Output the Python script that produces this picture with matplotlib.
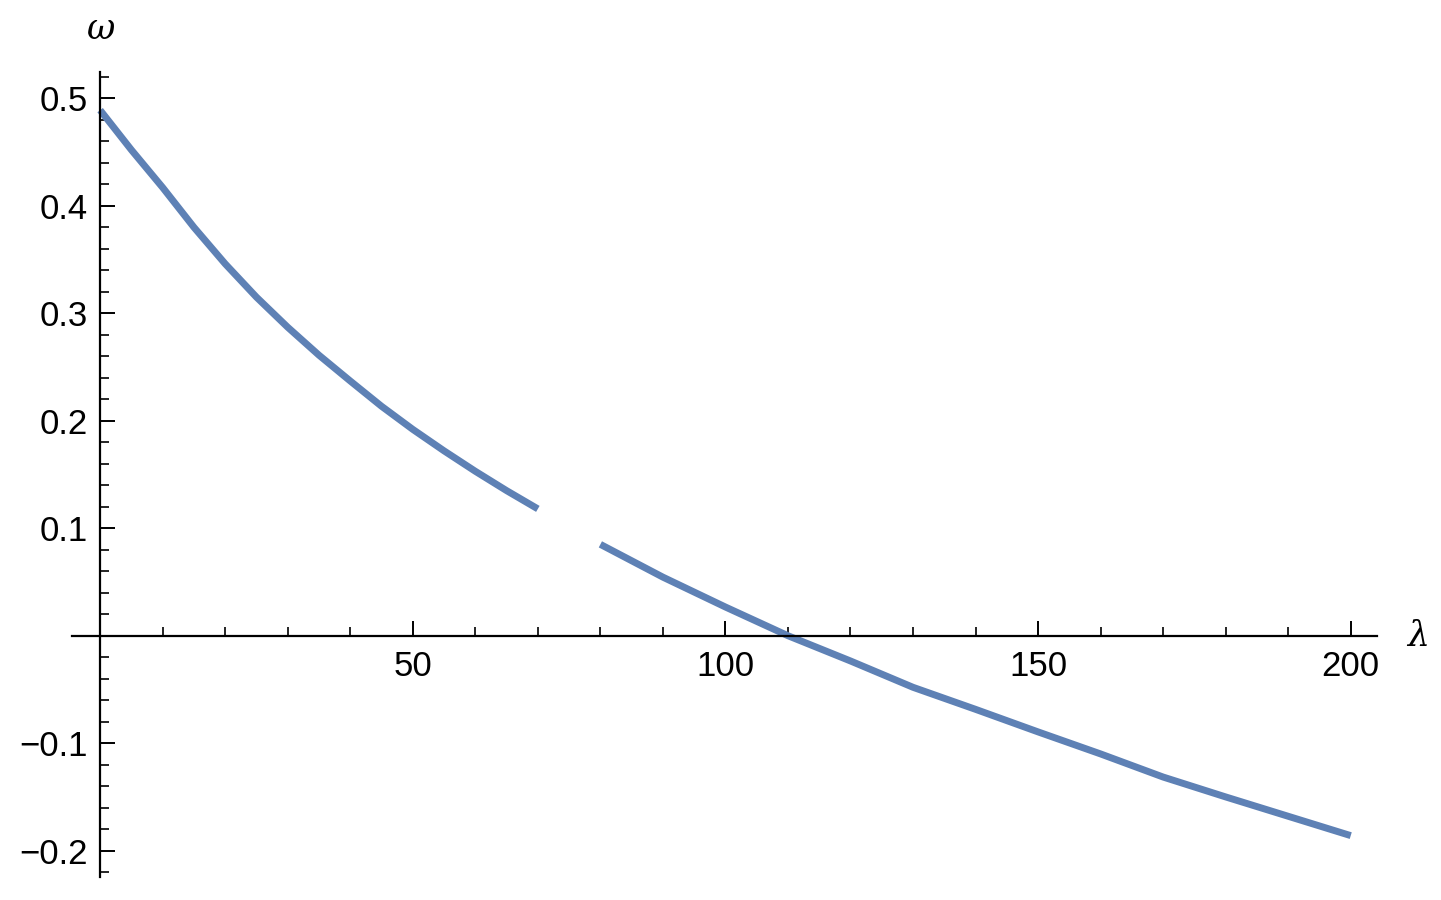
import matplotlib
matplotlib.use("Agg")
import matplotlib.pyplot as plt
from matplotlib.ticker import MultipleLocator, FixedLocator

# Data
lam_a = [0, 5, 10, 15, 20, 25, 30, 35, 40, 45, 50, 55, 60, 65, 70]
omega_a = [0.489, 0.452, 0.417, 0.380, 0.346, 0.315, 0.287, 0.261, 0.237, 0.2135,
           0.192, 0.172, 0.153, 0.135, 0.118]
lam_b = [80, 90, 100, 110, 120, 130, 140, 150, 160, 170, 180, 190, 200]
omega_b = [0.085, 0.0545, 0.0267, 0.0, -0.0235, -0.048, -0.0685, -0.0895,
           -0.110, -0.1315, -0.150, -0.168, -0.186]

x_major = [50, 100, 150, 200]
y_major = [-0.2, -0.1, 0.1, 0.2, 0.3, 0.4, 0.5]

W, H = 1441, 900
fig = plt.figure(figsize=(W / 100, H / 100), dpi=100)
left, right, top, bottom = 72, 1377, 72, 877
ax = fig.add_axes([left / W, 1 - bottom / H, (right - left) / W, (bottom - top) / H])

color = "#5E81B5"
ax.plot(lam_a, omega_a, color=color, lw=5.0, solid_capstyle="butt")
ax.plot(lam_b, omega_b, color=color, lw=5.0, solid_capstyle="butt")

ax.set_xlim(-4.5, 204.2)
ax.set_ylim(-0.2245, 0.5245)

for s in ["top", "right"]:
    ax.spines[s].set_visible(False)
ax.spines["left"].set_position(("data", 0))
ax.spines["bottom"].set_position(("data", 0))
for s in ["left", "bottom"]:
    ax.spines[s].set_linewidth(1.6)

ax.xaxis.set_major_locator(FixedLocator(x_major))
ax.xaxis.set_minor_locator(MultipleLocator(10))
ax.yaxis.set_major_locator(FixedLocator(y_major))
ax.yaxis.set_minor_locator(MultipleLocator(0.02))

font = "Liberation Sans"
fs = 25
ax.tick_params(axis="both", which="major", direction="in", length=11, width=1.4)
ax.tick_params(axis="both", which="minor", direction="in", length=6.5, width=1.2)
ax.tick_params(axis="x", which="major", pad=10)
ax.tick_params(axis="y", which="major", pad=9)
ax.set_xticklabels([str(v) for v in x_major], fontfamily=font, fontsize=fs)
ax.set_yticklabels([f"{v:.1f}".replace("-", "\u2212") for v in y_major],
                   fontfamily=font, fontsize=fs)

fig.text(100 / W, 1 - 29 / H, "ω", ha="center", va="center", fontsize=25,
         fontfamily="DejaVu Serif", style="italic")
fig.text(1418 / W, 1 - 636 / H, "λ", ha="center", va="center", fontsize=25,
         fontfamily="DejaVu Serif", style="italic")

fig.savefig("out.png", dpi=100, facecolor="white")
